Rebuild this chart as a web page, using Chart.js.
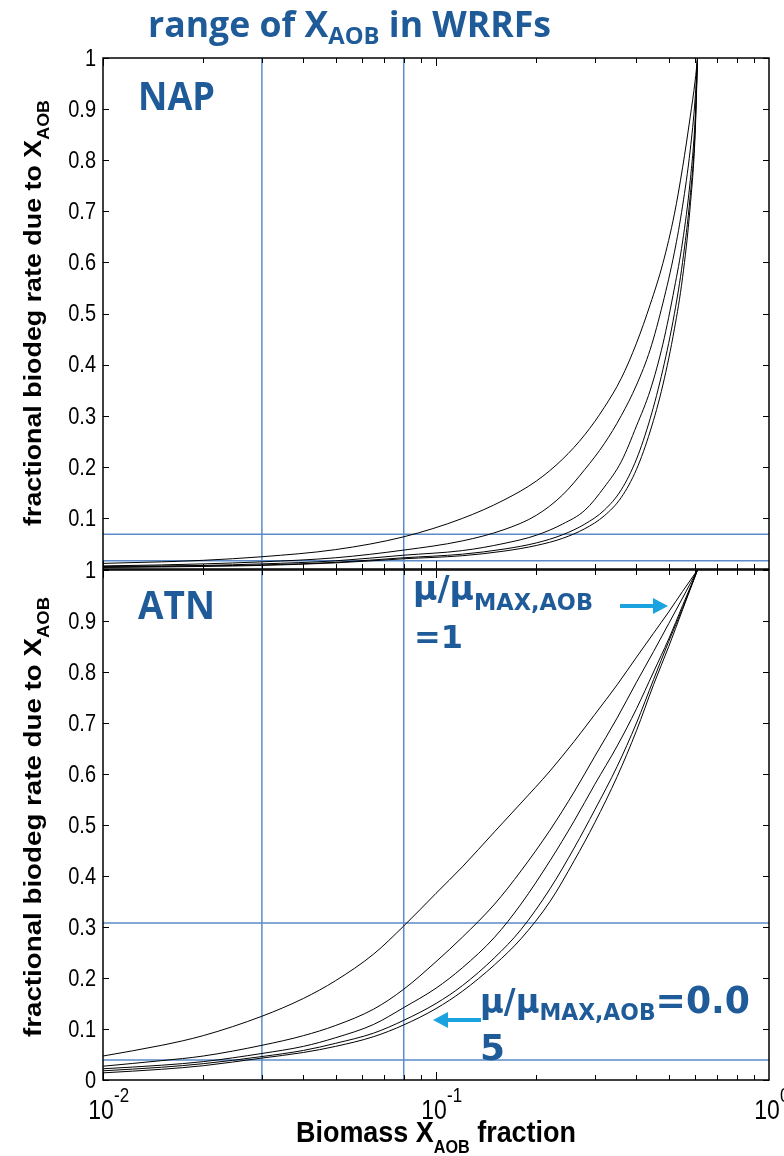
<!DOCTYPE html>
<html>
<head>
<meta charset="utf-8">
<script src="https://cdn.jsdelivr.net/npm/chart.js@4.4.1/dist/chart.umd.min.js"></script>
<style>
  html, body { margin: 0; padding: 0; background: #fff; }
  #wrap { position: relative; width: 784px; height: 1156px; overflow: hidden; }
  #wrap canvas, #wrap svg { position: absolute; left: 0; top: 0; }
</style>
</head>
<body>
<div id="wrap">
  <canvas id="napChart" width="784" height="1156"></canvas>
  <canvas id="atnChart" width="784" height="1156"></canvas>
  <svg id="notes" width="784" height="1156">
    <g font-weight="700" fill="#1f5b98">
      <text x="148" y="37" font-family="Open Sans" font-size="36" textLength="403" lengthAdjust="spacingAndGlyphs">range of X<tspan font-size="24" dy="7">AOB</tspan><tspan dy="-7"> in WRRFs</tspan></text>
      <text x="138" y="110" font-family="Open Sans" font-size="39" textLength="77" lengthAdjust="spacingAndGlyphs">NAP</text>
      <text x="138" y="619" font-family="Open Sans" font-size="39" textLength="77" lengthAdjust="spacingAndGlyphs">ATN</text>
      <text x="413" y="600" font-family="DejaVu Sans" font-size="34" textLength="180" lengthAdjust="spacingAndGlyphs">μ/μ<tspan font-size="23" dy="10">MAX,AOB</tspan></text>
      <text x="414" y="648" font-family="DejaVu Sans" font-size="32" textLength="49" lengthAdjust="spacingAndGlyphs">=1</text>
      <text x="480" y="1013" font-family="DejaVu Sans" font-size="34" textLength="270" lengthAdjust="spacingAndGlyphs">μ/μ<tspan font-size="23" dy="7">MAX,AOB</tspan><tspan font-size="38" dy="-7">=0.0</tspan></text>
      <text x="480" y="1060" font-family="DejaVu Sans" font-size="36" textLength="25" lengthAdjust="spacingAndGlyphs">5</text>
    </g>
    <g font-family="Liberation Sans, Arial, sans-serif" font-weight="700" fill="#000">
      <text transform="translate(41,526) rotate(-90)" font-size="24" textLength="426" lengthAdjust="spacingAndGlyphs">fractional biodeg rate due to X<tspan font-size="16" dy="8">AOB</tspan></text>
      <text transform="translate(41,1037) rotate(-90)" font-size="24" textLength="440" lengthAdjust="spacingAndGlyphs">fractional biodeg rate due to X<tspan font-size="16" dy="8">AOB</tspan></text>
      <text x="296" y="1142" font-size="30" textLength="280" lengthAdjust="spacingAndGlyphs">Biomass X<tspan font-size="18" dy="11">AOB</tspan><tspan dy="-11"> fraction</tspan></text>
    </g>
    <g fill="#1ba3e0" stroke="#1ba3e0">
      <line x1="620" y1="606" x2="656" y2="606" stroke-width="4"/>
      <polygon points="653,598 668,606 653,614" stroke="none"/>
      <line x1="481" y1="1020" x2="446" y2="1020" stroke-width="4"/>
      <polygon points="448,1012 433,1020 448,1028" stroke="none"/>
    </g>
  </svg>
</div>
<script>
// x positions (biomass fraction) and curve values
const napX = [0.01, 0.015, 0.02, 0.03, 0.05, 0.08, 0.12, 0.16, 0.2, 0.24, 0.28, 0.32, 0.36, 0.4, 0.44, 0.48, 0.52, 0.55, 0.58, 0.6, 0.61];
const napA = [0.011, 0.014, 0.017, 0.024, 0.038, 0.063, 0.099, 0.135, 0.172, 0.215, 0.263, 0.316, 0.373, 0.442, 0.518, 0.598, 0.695, 0.785, 0.885, 0.955, 1.0];
const napB = [0.006, 0.008, 0.010, 0.014, 0.022, 0.037, 0.055, 0.077, 0.105, 0.145, 0.195, 0.245, 0.30, 0.36, 0.43, 0.52, 0.62, 0.71, 0.82, 0.92, 1.0];
const napC = [0.005, 0.006, 0.007, 0.010, 0.016, 0.027, 0.036, 0.05, 0.066, 0.088, 0.115, 0.16, 0.21, 0.28, 0.35, 0.44, 0.55, 0.64, 0.76, 0.88, 1.0];
const napD = [0.004, 0.005, 0.006, 0.008, 0.013, 0.022, 0.029, 0.039, 0.051, 0.067, 0.088, 0.115, 0.155, 0.215, 0.295, 0.39, 0.50, 0.60, 0.73, 0.86, 1.0];
const napE = [0.003, 0.004, 0.005, 0.007, 0.012, 0.020, 0.026, 0.035, 0.046, 0.06, 0.079, 0.104, 0.14, 0.195, 0.27, 0.36, 0.47, 0.57, 0.71, 0.85, 1.0];

const atnX = [0.01, 0.015, 0.02, 0.03, 0.04, 0.05, 0.065, 0.08, 0.1, 0.12, 0.15, 0.18, 0.22, 0.26, 0.3, 0.35, 0.4, 0.45, 0.5, 0.55, 0.61];
const atnA = [0.047, 0.068, 0.087, 0.125, 0.16, 0.195, 0.247, 0.302, 0.366, 0.418, 0.487, 0.543, 0.606, 0.664, 0.717, 0.775, 0.829, 0.876, 0.918, 0.958, 1.0];
const atnB = [0.027, 0.038, 0.047, 0.068, 0.087, 0.107, 0.139, 0.178, 0.232, 0.28, 0.345, 0.41, 0.49, 0.565, 0.635, 0.71, 0.78, 0.84, 0.895, 0.945, 1.0];
const atnC = [0.022, 0.029, 0.036, 0.052, 0.066, 0.083, 0.109, 0.142, 0.18, 0.22, 0.28, 0.345, 0.43, 0.508, 0.58, 0.655, 0.728, 0.80, 0.865, 0.93, 1.0];
const atnD = [0.018, 0.025, 0.032, 0.046, 0.058, 0.072, 0.092, 0.117, 0.15, 0.185, 0.24, 0.295, 0.375, 0.455, 0.53, 0.615, 0.70, 0.785, 0.86, 0.925, 1.0];
const atnE = [0.014, 0.021, 0.028, 0.043, 0.054, 0.066, 0.085, 0.108, 0.14, 0.174, 0.226, 0.277, 0.35, 0.43, 0.505, 0.595, 0.685, 0.775, 0.85, 0.922, 1.0];

// reference lines (blue)
const vLines = [0.03, 0.08];
const napHLines = [0.068, 0.016];
const atnHLines = [0.308, 0.039];

// ticks
const yTickVals = [0, 0.1, 0.2, 0.3, 0.4, 0.5, 0.6, 0.7, 0.8, 0.9, 1];
const napYLabels = ['', '0.1', '0.2', '0.3', '0.4', '0.5', '0.6', '0.7', '0.8', '0.9', '1'];
const atnYLabels = ['0', '0.1', '0.2', '0.3', '0.4', '0.5', '0.6', '0.7', '0.8', '0.9', '1'];
const xDecades = [0.01, 0.1];
const xMajorVals = [0.01, 0.1, 1];
const xMajorExp = ['-2', '-1', '0'];

const BLUE = '#5b8bc9';

const curveSet = (xs, ys) => ({
    data: xs.map((x, i) => ({ x, y: ys[i] })),
    borderColor: '#000',
    borderWidth: 1,
    pointRadius: 0,
    cubicInterpolationMode: 'monotone',
});
const refLine = (pts) => ({
    data: pts,
    borderColor: BLUE,
    borderWidth: 1.5,
    pointRadius: 0,
    tension: 0,
});

// MATLAB style box with inward ticks and labels
const framePlugin = {
    id: 'matlabFrame',
    afterDatasetsDraw(chart, args, opts) {
        const { ctx, chartArea: a, scales: { x, y } } = chart;
        ctx.save();
        ctx.strokeStyle = '#000';
        ctx.lineWidth = 1;
        ctx.beginPath();
        yTickVals.forEach(v => {
            const py = Math.round(y.getPixelForValue(v)) + 0.5;
            ctx.moveTo(a.left, py); ctx.lineTo(a.left + 6, py);
            ctx.moveTo(a.right, py); ctx.lineTo(a.right - 6, py);
        });
        xDecades.forEach(d => {
            for (let k = 1; k <= 9; k++) {
                const px = Math.round(x.getPixelForValue(k * d)) + 0.5;
                const len = k === 1 ? 8 : 5;
                ctx.moveTo(px, a.bottom); ctx.lineTo(px, a.bottom - len);
                ctx.moveTo(px, a.top); ctx.lineTo(px, a.top + len);
            }
        });
        ctx.stroke();
        ctx.lineWidth = 1.5;
        ctx.strokeRect(a.left, a.top, a.right - a.left, a.bottom - a.top);

        ctx.fillStyle = '#000';
        ctx.font = '20px "Liberation Sans", Arial, sans-serif';
        ctx.textAlign = 'right';
        ctx.textBaseline = 'middle';
        opts.yLabels.forEach((lab, i) => {
            if (!lab) return;
            const py = y.getPixelForValue(yTickVals[i]);
            ctx.save();
            ctx.translate(a.left - 7, py);
            ctx.scale(1, 1.2);
            ctx.fillText(lab, 0, 1);
            ctx.restore();
        });
        if (opts.xLabels) {
            ctx.textBaseline = 'alphabetic';
            xMajorVals.forEach((v, i) => {
                const px = x.getPixelForValue(v);
                ctx.save();
                ctx.translate(px, 1119);
                ctx.scale(1, 1.2);
                ctx.textAlign = 'center';
                ctx.font = '23px "Liberation Sans", Arial, sans-serif';
                ctx.fillText('10', -2, 0);
                ctx.textAlign = 'left';
                ctx.font = '17px "Liberation Sans", Arial, sans-serif';
                ctx.fillText(xMajorExp[i], 11, -14);
                ctx.restore();
            });
        }
        ctx.restore();
    }
};

function makeChart(id, xs, curves, hLines, padding, yLabels, xLabels) {
    const datasets = curves.map(c => curveSet(xs, c));
    vLines.forEach(v => datasets.push(refLine([{ x: v, y: 0 }, { x: v, y: 1 }])));
    hLines.forEach(h => datasets.push(refLine([{ x: 0.01, y: h }, { x: 1, y: h }])));
    return new Chart(document.getElementById(id), {
        type: 'line',
        data: { datasets },
        options: {
            responsive: false,
            animation: false,
            devicePixelRatio: 1,
            layout: { padding },
            scales: {
                x: { type: 'logarithmic', min: 0.01, max: 1, display: false },
                y: { type: 'linear', min: 0, max: 1, display: false },
            },
            plugins: {
                legend: { display: false },
                tooltip: { enabled: false },
                matlabFrame: { yLabels, xLabels },
            },
        },
        plugins: [framePlugin],
    });
}

makeChart('napChart', napX, [napA, napB, napC, napD, napE], napHLines,
    { left: 103, top: 58, right: 15, bottom: 587 }, napYLabels, false);
makeChart('atnChart', atnX, [atnA, atnB, atnC, atnD, atnE], atnHLines,
    { left: 103, top: 570, right: 15, bottom: 76 }, atnYLabels, true);
</script>
</body>
</html>
